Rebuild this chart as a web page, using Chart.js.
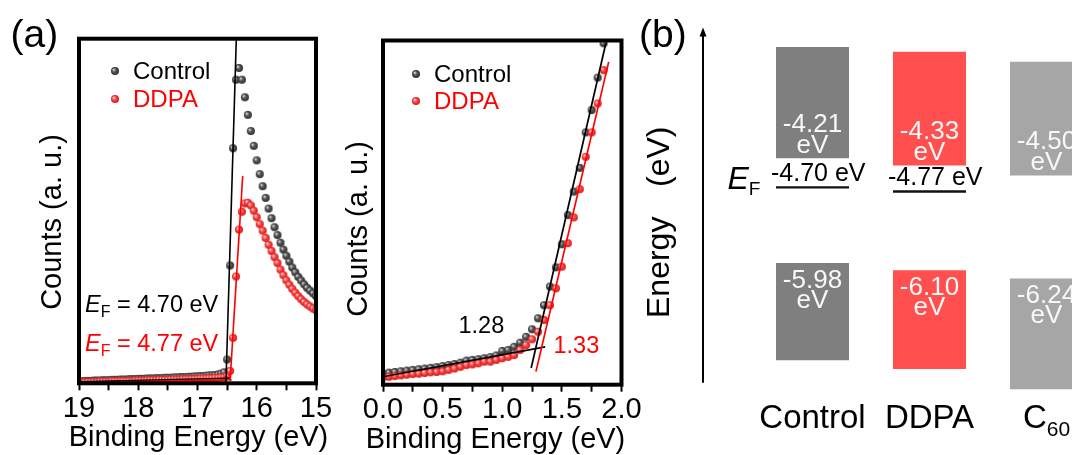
<!DOCTYPE html>
<html>
<head>
<meta charset="utf-8">
<script src="https://cdn.jsdelivr.net/npm/chart.js@4.4.1/dist/chart.umd.min.js"></script>
<style>
  html, body { margin: 0; padding: 0; background: #fff; width: 1072px; height: 455px; overflow: hidden; position: relative; }
  canvas { position: absolute; top: 0; }
  #cutoff { left: 0; }
  #onset { left: 340px; }
  #levels { left: 630px; }
</style>
</head>
<body>
<canvas id="cutoff" width="340" height="455"></canvas>
<canvas id="onset" width="310" height="455"></canvas>
<canvas id="levels" width="510" height="455"></canvas>
<script>
// He I photon energy (eV)
const HE_I = 21.22;

// Secondary-electron cutoff region: binding energy (eV) and counts (a. u.)
const cutoffEnergy = [
  19.00, 18.95, 18.90, 18.85, 18.80, 18.75, 18.70, 18.65, 18.60, 18.55,
  18.50, 18.45, 18.40, 18.35, 18.30, 18.25, 18.20, 18.15, 18.10, 18.05,
  18.00, 17.95, 17.90, 17.85, 17.80, 17.75, 17.70, 17.65, 17.60, 17.55,
  17.50, 17.45, 17.40, 17.35, 17.30, 17.25, 17.20, 17.15, 17.10, 17.05,
  17.00, 16.95, 16.90, 16.85, 16.80, 16.75, 16.70, 16.65, 16.60, 16.55,
  16.50, 16.45, 16.40, 16.35, 16.30, 16.25, 16.20, 16.15, 16.10, 16.05,
  16.00, 15.95, 15.90, 15.85, 15.80, 15.75, 15.70, 15.65, 15.60, 15.55,
  15.50, 15.45, 15.40, 15.35, 15.30, 15.25, 15.20, 15.15, 15.10, 15.05,
  15.00
];
const cutoffControl = [
  0.6, 0.6, 0.7, 0.7, 0.7, 0.8, 0.8, 0.8, 0.9, 0.9,
  0.9, 1.0, 1.0, 1.0, 1.1, 1.1, 1.1, 1.2, 1.2, 1.2,
  1.3, 1.3, 1.3, 1.4, 1.4, 1.4, 1.5, 1.5, 1.5, 1.6,
  1.6, 1.6, 1.7, 1.7, 1.8, 1.8, 1.8, 1.9, 1.9, 2.0,
  2.0, 2.1, 2.1, 2.2, 2.3, 2.3, 2.4, 2.6, 2.8, 3.2,
  6.9, 34.2, 68.2, 88.1, 91.5, 88.1, 83.0, 77.9, 73.2, 68.9,
  64.7, 60.7, 57.2, 53.8, 50.7, 47.9, 45.3, 43.0, 40.8, 38.8,
  37.0, 35.3, 33.6, 32.2, 30.9, 29.8, 28.7, 27.7, 26.9, 26.1,
  25.3
];
const cutoffDDPA = [
  0.3, 0.3, 0.3, 0.4, 0.4, 0.4, 0.4, 0.5, 0.5, 0.5,
  0.5, 0.6, 0.6, 0.6, 0.6, 0.7, 0.7, 0.7, 0.7, 0.8,
  0.8, 0.8, 0.8, 0.9, 0.9, 0.9, 0.9, 1.0, 1.0, 1.0,
  1.0, 1.1, 1.1, 1.1, 1.1, 1.2, 1.2, 1.2, 1.3, 1.3,
  1.3, 1.4, 1.4, 1.4, 1.5, 1.5, 1.6, 1.6, 1.7, 1.8,
  2.2, 3.6, 13.2, 31.0, 44.6, 49.8, 52.2, 52.4, 51.6, 50.1,
  48.2, 46.2, 44.3, 42.2, 40.2, 38.4, 36.6, 34.9, 33.0, 31.4,
  29.9, 28.6, 27.4, 26.3, 25.3, 24.4, 23.6, 22.9, 22.3, 21.7,
  21.2
];
// Work functions from the cutoff: E_F = hv - E_cutoff
const fermiLevel = [4.70, 4.77];
// Linear fits of the cutoff edge (foot counts, upper end) and of the flat background
const edgeFitFoot = [0.0, 0.7];
const edgeFitTop = [{ x: 16.345, y: 100 }, { x: 16.237, y: 60.2 }];
const tailFitControl = [{ x: 19.0, y: 0.5 }, { x: 16.45, y: 1.5 }];
const tailFitDDPA = [{ x: 19.0, y: 0.2 }, { x: 16.42, y: 1.0 }];

// Valence-band onset region
const onsetEnergy = [
  0.00, 0.05, 0.10, 0.15, 0.20, 0.25, 0.30, 0.35, 0.40, 0.45,
  0.50, 0.55, 0.60, 0.65, 0.70, 0.75, 0.80, 0.85, 0.90, 0.95,
  1.00, 1.05, 1.10, 1.15, 1.20, 1.25, 1.30, 1.35, 1.40, 1.45,
  1.50, 1.55, 1.60, 1.65, 1.70, 1.75, 1.80, 1.85
];
const onsetControl = [
  3.3, 3.5, 3.7, 3.9, 4.1, 4.3, 4.5, 4.7, 4.9, 5.1,
  5.4, 5.7, 6.0, 6.4, 7.0, 7.2, 7.4, 7.7, 8.0, 8.5,
  9.8, 10.1, 11.0, 12.2, 13.9, 16.1, 19.3, 23.1, 28.5, 34.1,
  40.8, 49.3, 56.1, 63.0, 73.3, 79.8, 89.2, 99.2
];
const onsetDDPA = [
  2.1, 2.3, 2.5, 2.7, 2.9, 3.1, 3.2, 3.4, 3.6, 3.7,
  3.9, 4.3, 4.7, 5.2, 5.7, 5.9, 6.2, 6.7, 6.7, 7.2,
  7.7, 8.1, 8.6, 10.1, 11.5, 13.2, 15.4, 18.8, 23.1, 28.0,
  34.3, 41.1, 48.6, 56.8, 66.2, 73.3, 81.7, 91.4
];
// Onsets (eV), leading-edge slopes (counts/eV) and the count span drawn for each edge fit
const onsetValue = [1.28, 1.33];
const onsetSlope = [150.7, 147.5];
const onsetSpan = [[4.85, 99.2], [3.8, 93.8]];
const backgroundFit = [{ x: 0.0, y: 2.3 }, { x: 1.36, y: 11.0 }];

// Energy levels (eV)
const levelGroups = ['Control', 'DDPA', 'C\u2086\u2080'];
const conductionEdge = [-4.21, -4.33, -4.50];
const conductionTop = [-2.33, -2.41, -2.58];
const valenceEdge = [-5.98, -6.10, -6.24];
const valenceBottom = [-7.62, -7.77, -8.11];
const fermiEdge = fermiLevel.map(v => -v);

// ---------------------------------------------------------------------------
const FONT = "'Liberation Sans', Arial, Helvetica, sans-serif";
Chart.defaults.font.family = FONT;
Chart.defaults.color = '#000';

const pts = (xs, ys) => xs.map((x, i) => ({ x, y: ys[i] }));

// shaded ball marker
function sphere(r, light, mid, dark) {
  const s = Math.ceil(2 * r + 2);
  const c = document.createElement('canvas');
  c.width = s; c.height = s;
  const g = c.getContext('2d');
  const m = s / 2;
  const grad = g.createRadialGradient(m - r * 0.38, m - r * 0.38, r * 0.08, m, m, r);
  grad.addColorStop(0, light);
  grad.addColorStop(0.45, mid);
  grad.addColorStop(1, dark);
  g.fillStyle = grad;
  g.beginPath(); g.arc(m, m, r, 0, Math.PI * 2); g.fill();
  return c;
}
const grayBall = sphere(4, '#d8d8d8', '#555555', '#2e2e2e');
const redBall = sphere(4, '#ffd8d8', '#ff4646', '#d41818');

// thick box around the plotting area
const framePlugin = {
  id: 'frame',
  afterDatasetsDraw(chart, args, opts) {
    const a = chart.chartArea, ctx = chart.ctx;
    ctx.save();
    ctx.lineWidth = opts.width || 4;
    ctx.strokeStyle = opts.color || '#000';
    ctx.strokeRect(a.left, a.top, a.right - a.left, a.bottom - a.top);
    ctx.restore();
  }
};

// text made of runs with their own fonts and baseline shifts
function drawRuns(ctx, x, y, runs, color, align) {
  ctx.save();
  ctx.fillStyle = color;
  ctx.textBaseline = 'alphabetic';
  ctx.textAlign = 'left';
  let total = 0;
  runs.forEach(r => { ctx.font = r.font; total += ctx.measureText(r.text).width; });
  let cx = align === 'center' ? x - total / 2 : x;
  runs.forEach(r => {
    ctx.font = r.font;
    ctx.fillText(r.text, cx, y + (r.dy || 0));
    cx += ctx.measureText(r.text).width;
  });
  ctx.restore();
}
function verticalText(ctx, text, x, y, font, align) {
  ctx.save();
  ctx.translate(x, y);
  ctx.rotate(-Math.PI / 2);
  ctx.font = font;
  ctx.fillStyle = '#000';
  ctx.textAlign = align || 'center';
  ctx.textBaseline = 'middle';
  ctx.fillText(text, 0, 0);
  ctx.restore();
}
function legendRow(ctx, ball, x, y, text, color) {
  ctx.drawImage(ball, x - ball.width / 2, y - ball.height / 2);
  ctx.save();
  ctx.font = '24px ' + FONT;
  ctx.fillStyle = color;
  ctx.textBaseline = 'middle';
  ctx.fillText(text, x + 18, y + 1);
  ctx.restore();
}
// split a label into normal text and subscript digits
function labelRuns(label, size) {
  const runs = [];
  for (const ch of label) {
    const code = ch.charCodeAt(0);
    const sub = code >= 0x2080 && code <= 0x2089;
    const text = sub ? String(code - 0x2080) : ch;
    const last = runs[runs.length - 1];
    if (last && last.sub === sub) last.text += text;
    else runs.push({ text, sub, font: (sub ? Math.round(size * 0.64) : size) + 'px ' + FONT, dy: sub ? size * 0.24 : 0 });
  }
  return runs;
}

const fitLine = (data, color, width) => ({
  data, showLine: true, borderColor: color, borderWidth: width,
  pointRadius: 0, pointHoverRadius: 0, order: 0
});
const markers = (label, data, ball, order) => ({
  label, data, pointStyle: ball, pointRadius: 4, order
});

const baseOptions = {
  responsive: false, animation: false, devicePixelRatio: 1,
  events: [],
  plugins: { legend: { display: false }, tooltip: { enabled: false }, frame: { width: 4, color: '#000' } }
};
const energyTicks = (size, padding, callback, step) => ({
  stepSize: step, autoSkip: false, maxRotation: 0, padding, font: { size }, color: '#000', callback
});
const tickMarks = { display: true, drawOnChartArea: false, drawTicks: true, tickLength: 7, tickWidth: 2, tickColor: '#000' };

// ---------------- (a) left: secondary-electron cutoff ----------------
const cutoffText = {
  id: 'cutoffText',
  afterDraw(chart) {
    const ctx = chart.ctx;
    drawRuns(ctx, 10.5, 47, [{ text: '(a)', font: '39px ' + FONT }], '#000');
    verticalText(ctx, 'Counts (a. u.)', 53, 222, '29px ' + FONT);
    drawRuns(ctx, 198.5, 446, [{ text: 'Binding Energy (eV)', font: '29px ' + FONT }], '#000', 'center');
    legendRow(ctx, grayBall, 115, 71, chart.data.datasets[0].label, '#000');
    legendRow(ctx, redBall, 115, 99, chart.data.datasets[1].label, '#ff0000');
    const ef = (v, y, color) => drawRuns(ctx, 85, y, [
      { text: 'E', font: 'italic 23.5px ' + FONT },
      { text: 'F', font: '16px ' + FONT, dy: 5 },
      { text: ' = ' + v.toFixed(2) + ' eV', font: '23.5px ' + FONT }
    ], color);
    ef(fermiLevel[0], 312, '#000');
    ef(fermiLevel[1], 351, '#ff0000');
  }
};

new Chart(document.getElementById('cutoff'), {
  type: 'scatter',
  data: {
    datasets: [
      markers('Control', pts(cutoffEnergy, cutoffControl), grayBall, 3),
      markers('DDPA', pts(cutoffEnergy, cutoffDDPA), redBall, 2),
      fitLine([{ x: HE_I - fermiLevel[0], y: edgeFitFoot[0] }, edgeFitTop[0]], '#000', 1.6),
      fitLine([{ x: HE_I - fermiLevel[1], y: edgeFitFoot[1] }, edgeFitTop[1]], '#ff0000', 1.6),
      fitLine(tailFitControl, '#000', 1.4),
      fitLine(tailFitDDPA, '#ff0000', 1.4)
    ]
  },
  options: {
    ...baseOptions,
    layout: { padding: { left: 79, top: 38.7, right: 24, bottom: 0 } },
    scales: {
      x: {
        type: 'linear', reverse: true, min: 15, max: 19,
        ticks: energyTicks(29, 0.9, v => Math.abs(v - Math.round(v)) < 1e-6 ? String(Math.round(v)) : '', 0.5),
        grid: tickMarks,
        border: { display: false },
        afterFit: s => { s.height = 71.7; }
      },
      y: { type: 'linear', display: false, min: 0, max: 100 }
    }
  },
  plugins: [framePlugin, cutoffText]
});

// ---------------- (a) right: valence-band onset ----------------
const bgAt = e => backgroundFit[0].y + (backgroundFit[1].y - backgroundFit[0].y) / (backgroundFit[1].x - backgroundFit[0].x) * (e - backgroundFit[0].x);
const edgeFit = i => onsetSpan[i].map(c => ({ x: onsetValue[i] + (c - bgAt(onsetValue[i])) / onsetSlope[i], y: c }));

const onsetText = {
  id: 'onsetText',
  afterDraw(chart) {
    const ctx = chart.ctx;
    verticalText(ctx, 'Counts (a. u.)', 18.5, 229, '29px ' + FONT);
    drawRuns(ctx, 155.5, 448, [{ text: 'Binding Energy (eV)', font: '29px ' + FONT }], '#000', 'center');
    legendRow(ctx, grayBall, 76, 74, chart.data.datasets[0].label, '#000');
    legendRow(ctx, redBall, 76, 101, chart.data.datasets[1].label, '#ff0000');
    drawRuns(ctx, 118.5, 333, [{ text: onsetValue[0].toFixed(2), font: '23.5px ' + FONT }], '#000');
    drawRuns(ctx, 213.5, 353.3, [{ text: onsetValue[1].toFixed(2), font: '23.5px ' + FONT }], '#ff0000');
  }
};

new Chart(document.getElementById('onset'), {
  type: 'scatter',
  data: {
    datasets: [
      markers('Control', pts(onsetEnergy, onsetControl), grayBall, 3),
      markers('DDPA', pts(onsetEnergy, onsetDDPA), redBall, 2),
      fitLine(edgeFit(0), '#000', 1.7),
      fitLine(edgeFit(1), '#ff0000', 1.7),
      fitLine(backgroundFit, '#000', 1.7)
    ]
  },
  options: {
    ...baseOptions,
    layout: { padding: { left: 43, top: 40.5, right: 28.5, bottom: 0 } },
    scales: {
      x: {
        type: 'linear', min: 0, max: 2,
        ticks: energyTicks(29, 0.6, v => Math.abs(v * 2 - Math.round(v * 2)) < 1e-6 ? v.toFixed(1) : '', 0.25),
        grid: tickMarks,
        border: { display: false },
        afterFit: s => { s.height = 70.3; }
      },
      y: { type: 'linear', display: false, min: 0, max: 100 }
    }
  },
  plugins: [framePlugin, onsetText]
});

// ---------------- (b): energy-level diagram ----------------
const levelText = {
  id: 'levelText',
  afterDraw(chart) {
    const ctx = chart.ctx;
    const y = chart.scales.y;
    const x = chart.scales.x;
    const cb = chart.getDatasetMeta(0).data;
    const vb = chart.getDatasetMeta(1).data;

    drawRuns(ctx, 9, 47, [{ text: '(b)', font: '39px ' + FONT }], '#000');

    // energy axis arrow
    const ax = chart.chartArea.left - 51;
    const yLow = y.getPixelForValue(-8.0), yHigh = y.getPixelForValue(-2.0);
    ctx.save();
    ctx.strokeStyle = '#000'; ctx.fillStyle = '#000'; ctx.lineWidth = 2;
    ctx.beginPath(); ctx.moveTo(ax, yLow); ctx.lineTo(ax, yHigh + 6); ctx.stroke();
    ctx.beginPath(); ctx.moveTo(ax, yHigh); ctx.lineTo(ax - 3.5, yHigh + 9); ctx.lineTo(ax + 3.5, yHigh + 9); ctx.closePath(); ctx.fill();
    ctx.restore();
    verticalText(ctx, 'Energy', 30, 318, '32px ' + FONT, 'left');
    verticalText(ctx, '(eV)', 30, 187, '32px ' + FONT, 'left');

    // group names under the blocks
    levelGroups.forEach((name, i) => {
      drawRuns(ctx, x.getPixelForValue(i), 428, labelRuns(name, 33), '#000', 'center');
    });

    // band-edge values inside the blocks
    ctx.save();
    ctx.font = '26px ' + FONT;
    ctx.fillStyle = '#f8f8f8';
    ctx.textAlign = 'center';
    ctx.textBaseline = 'alphabetic';
    conductionEdge.forEach((v, i) => {
      const py = y.getPixelForValue(v);
      ctx.fillText(v.toFixed(2), cb[i].x, py - 26.5);
      ctx.fillText('eV', cb[i].x, py - 5.5);
    });
    valenceEdge.forEach((v, i) => {
      const py = y.getPixelForValue(v);
      ctx.fillText(v.toFixed(2), vb[i].x, py + 24.5);
      ctx.fillText('eV', vb[i].x, py + 45);
    });
    ctx.restore();

    // Fermi levels
    fermiEdge.forEach((v, i) => {
      const bar = cb[i];
      const l = bar.x - bar.width / 2, r = bar.x + bar.width / 2;
      const py = y.getPixelForValue(v);
      ctx.save();
      ctx.strokeStyle = '#111'; ctx.lineWidth = 2.4;
      ctx.beginPath(); ctx.moveTo(l, py); ctx.lineTo(r, py); ctx.stroke();
      ctx.restore();
      drawRuns(ctx, l - 5, py - 6, [{ text: v.toFixed(2) + ' eV', font: '25px ' + FONT }], '#000');
    });
    drawRuns(ctx, 97.5, y.getPixelForValue(fermiEdge[0]) + 2, [
      { text: 'E', font: 'italic 32px ' + FONT },
      { text: 'F', font: '19px ' + FONT, dy: 6 }
    ], '#000');
  }
};

const levelColors = ['#7f7f7f', '#ff4f4f', '#a6a6a6'];
new Chart(document.getElementById('levels'), {
  type: 'bar',
  data: {
    labels: levelGroups,
    datasets: [
      { label: 'Conduction band', data: conductionEdge.map((v, i) => [v, conductionTop[i]]), backgroundColor: levelColors },
      { label: 'Valence band', data: valenceEdge.map((v, i) => [valenceBottom[i], v]), backgroundColor: levelColors }
    ]
  },
  options: {
    ...baseOptions,
    plugins: { legend: { display: false }, tooltip: { enabled: false } },
    datasets: { bar: { grouped: false, categoryPercentage: 1, barPercentage: 0.624, borderWidth: 0 } },
    layout: { padding: { left: 124, top: 21.6, right: 35, bottom: 0 } },
    scales: {
      x: {
        grid: { display: false, drawTicks: false },
        border: { display: false },
        ticks: { display: false },
        afterFit: s => { s.height = 60.5; }
      },
      y: { type: 'linear', display: false, min: -8.2, max: -1.9 }
    }
  },
  plugins: [levelText]
});
</script>
</body>
</html>
